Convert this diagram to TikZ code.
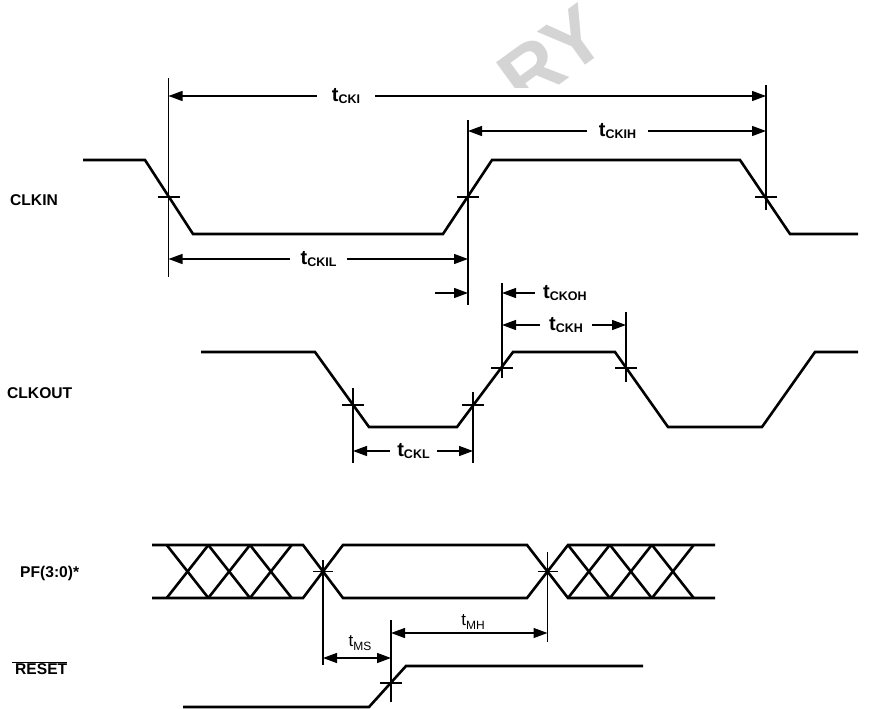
\documentclass[tikz,border=0pt]{standalone}
\usepackage{fontspec}
\setmainfont{Liberation Sans}
\usetikzlibrary{arrows.meta}
\newcommand{\tsubb}[1]{{\fontsize{20}{20}\selectfont t}\raisebox{-1.5pt}{\fontsize{12.5}{12.5}\selectfont #1}}
\newcommand{\tsubn}[1]{{\fontsize{17}{17}\selectfont t}\raisebox{-4pt}{\fontsize{12}{12}\selectfont #1}}
\begin{document}
\begin{tikzpicture}[x=1pt,y=-1pt,
  sig/.style={line width=2.6pt},
  fine/.style={line width=1.2pt},
  dim/.style={line width=1.3pt,-{Triangle[length=14pt,width=10pt]}},
  dimb/.style={line width=1.3pt,{Triangle[length=14pt,width=10pt]}-{Triangle[length=14pt,width=10pt]}},
  sname/.style={font=\bfseries\fontsize{15.6}{16}\selectfont, anchor=west, inner sep=0pt},
  tlab/.style={font=\bfseries, inner sep=0pt},
  tnlab/.style={inner sep=0pt}]
\useasboundingbox (0,0) rectangle (881,709);

% watermark fragment
\begin{scope}
\clip (400,0) rectangle (700,88);
\node[text=black!17, font=\bfseries\fontsize{80}{80}\selectfont, rotate=36] (wm) at (552,56) {RY};
\end{scope}

% signal names
\node[sname] (nclkin) at (10,200) {CLKIN};
\node[sname] (nclkout) at (7,393) {CLKOUT};
\node[sname] (npf) at (20,573) {PF(3:0)*};
\node[sname] (nreset) at (15,669) {RESET};
\draw[fine] ([xshift=-3pt,yshift=1pt]nreset.north west) -- ([yshift=1pt]nreset.north east);

% CLKIN
\coordinate (ci0) at (83,160);
\coordinate (ci1) at (145,160);
\coordinate (ci2) at (193,234);
\coordinate (ci3) at (443,234);
\coordinate (ci4) at (492,160);
\coordinate (ci5) at (740,160);
\coordinate (ci6) at (790,234);
\coordinate (ci7) at (858,234);
\draw[sig] (ci0) -- (ci1) -- (ci2) -- (ci3) -- (ci4) -- (ci5) -- (ci6) -- (ci7);
\coordinate (cx1) at (168.5,197);
\coordinate (cx2) at (468,197);
\coordinate (cx3) at (766,197);
\draw[fine] (cx1 |- 0,78) -- (cx1 |- 0,277);
\draw[fine] (cx2 |- 0,120) -- (cx2 |- 0,305);
\draw[fine] (cx3 |- 0,85) -- (cx3 |- 0,210);
\foreach \c in {cx1,cx2,cx3}
  \draw[fine] ([xshift=-11pt]\c) -- ([xshift=11pt]\c);

\node[tlab, minimum width=58pt] (lcki) at (346,96) {\tsubb{CKI}};
\draw[dim] (lcki.west) -- (lcki.west -| cx1);
\draw[dim] (lcki.east) -- (lcki.east -| cx3);
\node[tlab, minimum width=61pt] (lckih) at (617.5,131) {\tsubb{CKIH}};
\draw[dim] (lckih.west) -- (lckih.west -| cx2);
\draw[dim] (lckih.east) -- (lckih.east -| cx3);
\node[tlab, minimum width=57pt] (lckil) at (318.5,259) {\tsubb{CKIL}};
\draw[dim] (lckil.west) -- (lckil.west -| cx1);
\draw[dim] (lckil.east) -- (lckil.east -| cx2);

% CLKOUT
\coordinate (co0) at (201,352);
\coordinate (co1) at (315,352);
\coordinate (co2) at (369,427);
\coordinate (co3) at (457,427);
\coordinate (co4) at (513,352);
\coordinate (co5) at (615,352);
\coordinate (co6) at (668,427);
\coordinate (co7) at (762,427);
\coordinate (co8) at (815,352);
\coordinate (co9) at (858,352);
\draw[sig] (co0) -- (co1) -- (co2) -- (co3) -- (co4) -- (co5) -- (co6) -- (co7) -- (co8) -- (co9);
\coordinate (cl1) at (353,405);
\coordinate (cl2) at (473,405);
\coordinate (ch1) at (502,368);
\coordinate (ch2) at (626,368);
\draw[fine] (cl1 |- 0,388) -- (cl1 |- 0,463);
\draw[fine] (cl2 |- 0,392) -- (cl2 |- 0,463);
\draw[fine] (ch1 |- 0,283) -- (ch1 |- 0,378);
\draw[fine] (ch2 |- 0,312) -- (ch2 |- 0,382);
\foreach \c in {cl1,cl2,ch1,ch2}
  \draw[fine] ([xshift=-11pt]\c) -- ([xshift=11pt]\c);

\coordinate (tohs) at (435,293);
\draw[dim] (tohs) -- (tohs -| cx2);
\node[tlab, anchor=west, inner xsep=8pt] (lckoh) at (535,293) {\tsubb{CKOH}};
\draw[dim] (lckoh.west) -- (lckoh.west -| ch1);
\node[tlab, minimum width=52pt] (lckh) at (566,325) {\tsubb{CKH}};
\draw[dim] (lckh.west) -- (lckh.west -| ch1);
\draw[dim] (lckh.east) -- (lckh.east -| ch2);
\node[tlab, minimum width=47pt] (lckl) at (413.5,451) {\tsubb{CKL}};
\draw[dim] (lckl.west) -- (lckl.west -| cl1);
\draw[dim] (lckl.east) -- (lckl.east -| cl2);

% PF(3:0) bus
\draw[sig] (152,545) -- (303,545) -- (343,598) -- (527,598) -- (568,545) -- (715,545);
\draw[sig] (152,598) -- (303,598) -- (343,545) -- (527,545) -- (568,598) -- (715,598);
\foreach \a in {166.7,208.3,250,568,610,652} {
  \draw[sig] (\a,598) -- (\a+41.7,545);
  \draw[sig] (\a,545) -- (\a+41.7,598);
}
\coordinate (px1) at (323,571.5);
\coordinate (px2) at (547.5,571.5);
\draw[fine] (px1 |- 0,560) -- (px1 |- 0,665);
\draw[fine] (px2 |- 0,552) -- (px2 |- 0,642);
\foreach \c in {px1,px2}
  \draw[fine] ([xshift=-10pt]\c) -- ([xshift=10pt]\c);

% RESET
\draw[sig] (183,707) -- (369,707) -- (406,666) -- (643,666);
\coordinate (rx) at (391,683);
\draw[fine] (rx |- 0,620) -- (rx |- 0,702);
\draw[fine] ([xshift=-11pt]rx) -- ([xshift=11pt]rx);

\draw[dimb] (px1 |- 0,658) -- (rx |- 0,658);
\node[tnlab] (lms) at (360,643) {\tsubn{MS}};
\draw[dimb] (rx |- 0,633) -- (px2 |- 0,633);
\node[tnlab] (lmh) at (473,622) {\tsubn{MH}};
\end{tikzpicture}
\end{document}
